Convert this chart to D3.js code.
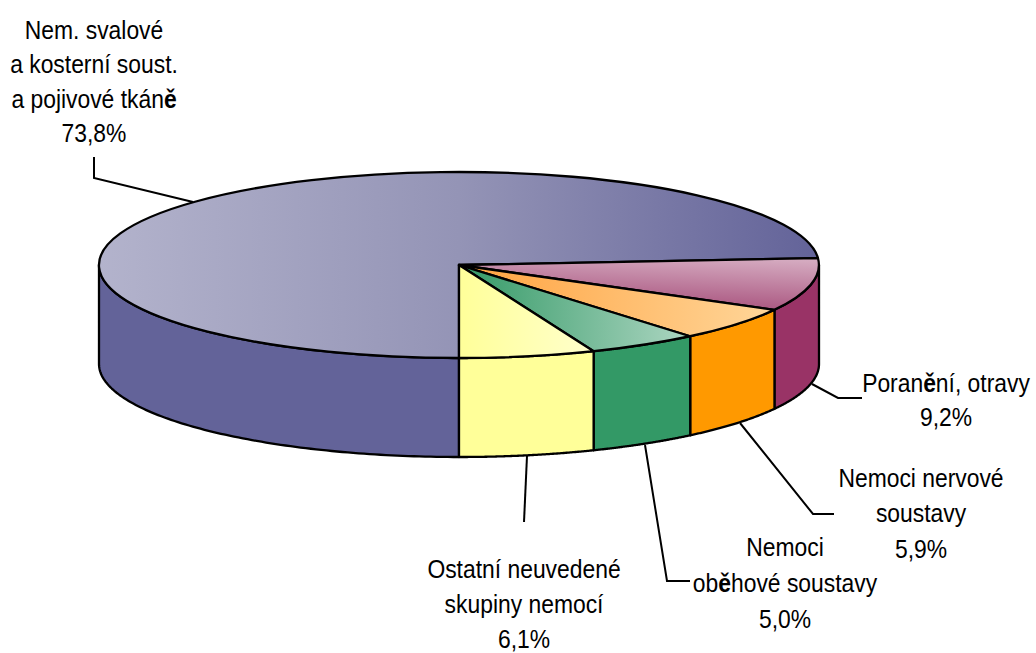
<!DOCTYPE html>
<html>
<head>
<meta charset="utf-8">
<script src="https://cdn.jsdelivr.net/npm/d3@7"></script>
<style>
  html, body { margin: 0; padding: 0; background: #fff; }
  text { font-family: "Liberation Sans", sans-serif; font-size: 26px; fill: #000; }
</style>
</head>
<body>
<div id="container"></div>
<script>
const categories = ["Nem. svalové a kosterní soust. a pojivové tkáně", "Poranění, otravy", "Nemoci nervové soustavy", "Nemoci oběhové soustavy", "Ostatní neuvedené skupiny nemocí"];
const values = [73.8, 9.2, 5.9, 5.0, 6.1];
const valueLabels = ["73,8%", "9,2%", "5,9%", "5,0%", "6,1%"];
const labelLines = [
  ["Nem. svalové", "a kosterní soust.", "a pojivové tkáně"],
  ["Poranění, otravy"],
  ["Nemoci nervové", "soustavy"],
  ["Nemoci", "oběhové soustavy"],
  ["Ostatní neuvedené", "skupiny nemocí"],
];
const sideColors = ["#636399", "#993366", "#ff9900", "#339966", "#ffff99"];
const topLight = ["#b3b3cc", "#d6adc2", "#ffd699", "#add6c2", "#ffffcc"];
const topDark = ["#636399", "#a8527d", "#ffa23f", "#339966", "#ffff99"];

const w = 1036;
const h = 653;
const cx = 459;
const cy = 265;
const rx = 360;
const ry = 93;
const depth = 99;

// label anchor (centre x, first baseline y, line gap) and leader line for each slice
const labelPos = [[94, 39, 34.4], [946, 392, 34], [921, 487, 35.5], [785, 556, 36], [524, 578, 34.8]];
const leaders = [
  [[94, 157], [94, 178], [193, 202]],
  [[812, 384], [838, 398], [862, 398]],
  [[740, 423], [813, 514], [834, 514]],
  [[645, 445], [667, 581], [690, 581]],
  [[527, 456], [524, 522]],
];

const svg = d3
  .select("#container")
  .append("svg")
  .attr("width", w)
  .attr("height", h)
  .style("display", "block");

const xScale = d3.scaleLinear().domain([-1, 1]).range([cx - rx, cx + rx]);
const yScale = d3.scaleLinear().domain([-1, 1]).range([cy - ry, cy + ry]);

const pie = d3
  .pie()
  .sort(null)
  .startAngle(Math.PI)
  .endAngle(3 * Math.PI);
const slices = pie(values);

// gradients for the top faces
const defs = svg.append("defs");
slices.forEach((s, i) => {
  const pink = i === 1;
  const g = defs
    .append("linearGradient")
    .attr("id", "top" + i)
    .attr("x1", pink ? 0.9 : 1)
    .attr("y1", 0)
    .attr("x2", pink ? 0.6 : 0)
    .attr("y2", pink ? 1 : 0);
  g.append("stop").attr("offset", 0).attr("stop-color", i === 0 ? topDark[i] : topLight[i]);
  if (i === 0) g.append("stop").attr("offset", 0.5).attr("stop-color", "#9494b6");
  g.append("stop").attr("offset", 1).attr("stop-color", i === 0 ? topLight[i] : topDark[i]);
});

// side walls, only the part of each slice that faces the viewer
const wall = d3
  .area()
  .x((a) => xScale(Math.sin(a)))
  .y0((a) => yScale(-Math.cos(a)))
  .y1((a) => yScale(-Math.cos(a)) + depth);

svg
  .append("g")
  .selectAll("path")
  .data(slices)
  .enter()
  .append("path")
  .attr("d", (s) => {
    let from = s.startAngle;
    let to = s.endAngle;
    if (from === Math.PI) to = 1.5 * Math.PI;
    else from = Math.max(from, 2.5 * Math.PI);
    return wall(d3.range(0, 101).map((k) => from + ((to - from) * k) / 100));
  })
  .attr("fill", (s, i) => sideColors[i])
  .attr("stroke", "#000")
  .attr("stroke-width", 2.3)
  .attr("stroke-linejoin", "round");

// top faces
const arc = d3.arc().innerRadius(0).outerRadius(1);

svg
  .append("g")
  .attr("transform", `translate(${cx},${cy}) scale(${rx},${ry})`)
  .selectAll("path")
  .data(slices)
  .enter()
  .append("path")
  .attr("d", arc)
  .attr("fill", (s, i) => `url(#top${i})`)
  .attr("stroke", "#000")
  .attr("stroke-width", 2.3)
  .attr("stroke-linejoin", "round")
  .attr("vector-effect", "non-scaling-stroke");

// leader lines
const leaderLine = d3.line();
svg
  .append("g")
  .selectAll("path")
  .data(leaders)
  .enter()
  .append("path")
  .attr("d", leaderLine)
  .attr("fill", "none")
  .attr("stroke", "#000")
  .attr("stroke-width", 2);

// labels, squeezed sideways like a narrow face; the letter ě comes out heavier in the original
const lineGap = (i) => labelPos[i][2];
const labels = svg
  .append("g")
  .selectAll("text")
  .data(categories)
  .enter()
  .append("text")
  .attr("aria-label", (d) => d)
  .attr("text-anchor", "middle")
  .attr("transform", (d, i) => `translate(${labelPos[i][0]},${labelPos[i][1]}) scale(0.88,1)`);

labels.each(function (d, i) {
  const text = d3.select(this);
  const lines = labelLines[i].concat(valueLabels[i]);
  lines.forEach((line, k) => {
    const tline = text
      .append("tspan")
      .attr("x", 0)
      .attr("y", k * lineGap(i));
    line.split(/(ě)/).forEach((part) => {
      if (!part) return;
      tline
        .append("tspan")
        .attr("font-weight", part === "ě" ? "bold" : null)
        .text(part);
    });
  });
});
</script>
</body>
</html>
